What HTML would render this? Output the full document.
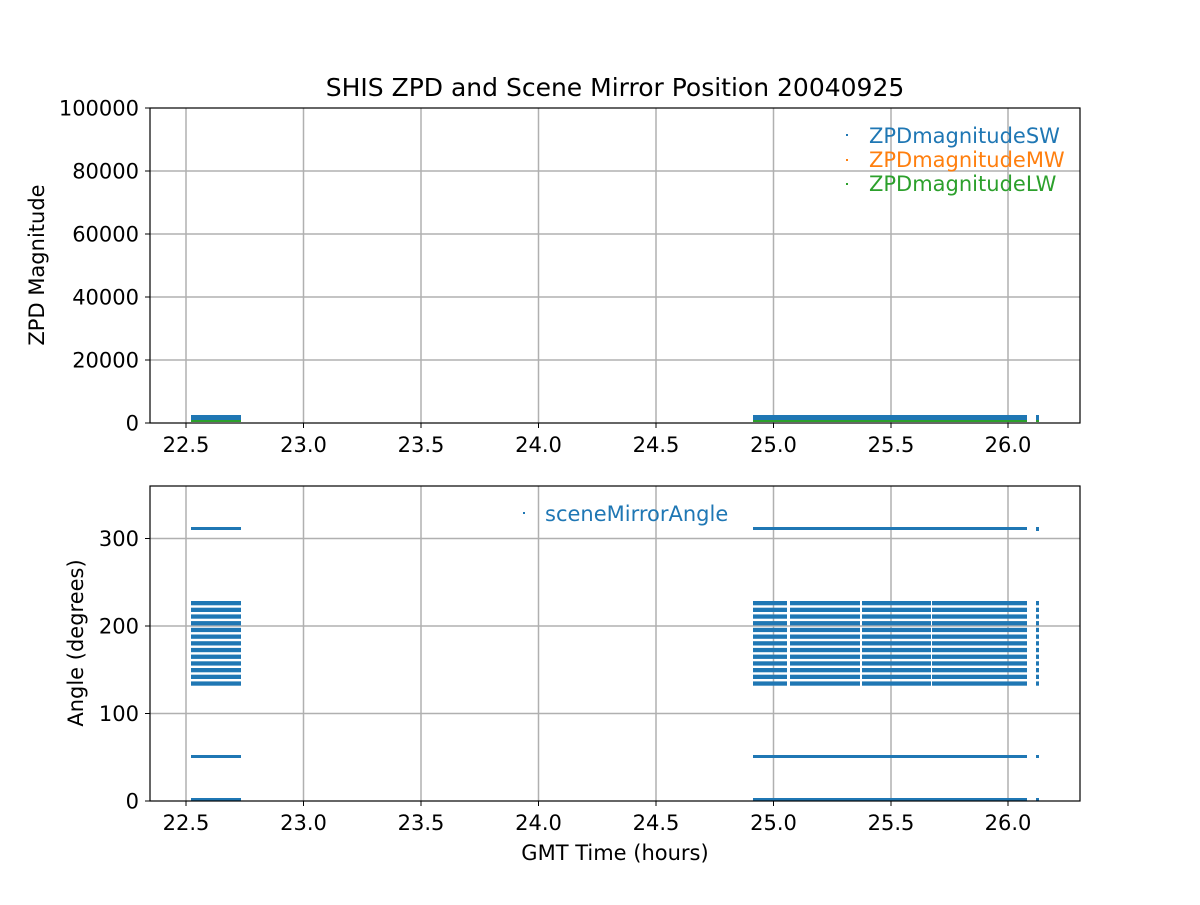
<!DOCTYPE html>
<html><head><style>body{margin:0;background:#fff}</style></head><body>
<svg width="1200" height="900" xmlns="http://www.w3.org/2000/svg" font-family="DejaVu Sans, Liberation Sans, sans-serif">
<rect width="1200" height="900" fill="#fff"/>
<g stroke="#b0b0b0" stroke-width="1.5">
<line x1="186" y1="108" x2="186" y2="423"/><line x1="303.5" y1="108" x2="303.5" y2="423"/><line x1="421" y1="108" x2="421" y2="423"/><line x1="538.5" y1="108" x2="538.5" y2="423"/><line x1="656" y1="108" x2="656" y2="423"/><line x1="773.5" y1="108" x2="773.5" y2="423"/><line x1="891" y1="108" x2="891" y2="423"/><line x1="1008" y1="108" x2="1008" y2="423"/>
<line x1="150" y1="360" x2="1080" y2="360"/><line x1="150" y1="297" x2="1080" y2="297"/><line x1="150" y1="234" x2="1080" y2="234"/><line x1="150" y1="171" x2="1080" y2="171"/>
<line x1="186" y1="486" x2="186" y2="801"/><line x1="303.5" y1="486" x2="303.5" y2="801"/><line x1="421" y1="486" x2="421" y2="801"/><line x1="538.5" y1="486" x2="538.5" y2="801"/><line x1="656" y1="486" x2="656" y2="801"/><line x1="773.5" y1="486" x2="773.5" y2="801"/><line x1="891" y1="486" x2="891" y2="801"/><line x1="1008" y1="486" x2="1008" y2="801"/>
<line x1="150" y1="713.5" x2="1080" y2="713.5"/><line x1="150" y1="626" x2="1080" y2="626"/><line x1="150" y1="538.5" x2="1080" y2="538.5"/>
</g>
<g fill="#1f77b4">
<rect x="191" y="415" width="50" height="5"/><rect x="753" y="415" width="274" height="5"/><rect x="1036" y="415" width="3" height="5"/>
</g>
<g fill="#2ca02c">
<rect x="191" y="420" width="50" height="2"/><rect x="753" y="420" width="274" height="2"/><rect x="1036" y="420" width="3" height="2"/>
</g>
<defs>
<pattern id="rows" x="0" y="601" width="10" height="6.7" patternUnits="userSpaceOnUse"><rect width="10" height="4.3" fill="#1f77b4"/></pattern>
</defs>
<g fill="#1f77b4">
<rect x="191" y="527" width="50" height="3"/><rect x="753" y="527" width="274" height="3"/><rect x="1036" y="527" width="3" height="4"/>
<rect x="191" y="755" width="50" height="3"/><rect x="753" y="755" width="274" height="3"/><rect x="1036" y="755" width="3" height="3"/>
<rect x="191" y="798" width="50" height="3"/><rect x="753" y="798" width="274" height="3"/><rect x="1036" y="798" width="3" height="3"/>
</g>
<g fill="url(#rows)">
<rect x="191" y="601" width="50" height="87"/>
<rect x="753" y="601" width="34" height="87"/><rect x="790" y="601" width="70" height="87"/><rect x="862" y="601" width="69" height="87"/><rect x="932" y="601" width="95" height="87"/>
<rect x="1036" y="601" width="3" height="87"/>
</g>
<g fill="none" stroke="#000" stroke-width="1.2">
<rect x="150" y="108" width="930" height="315"/><rect x="150" y="486" width="930" height="315"/>
</g>
<g stroke="#000" stroke-width="1">
<line x1="186" y1="423" x2="186" y2="428"/><line x1="303.5" y1="423" x2="303.5" y2="428"/><line x1="421" y1="423" x2="421" y2="428"/><line x1="538.5" y1="423" x2="538.5" y2="428"/><line x1="656" y1="423" x2="656" y2="428"/><line x1="773.5" y1="423" x2="773.5" y2="428"/><line x1="891" y1="423" x2="891" y2="428"/><line x1="1008" y1="423" x2="1008" y2="428"/>
<line x1="186" y1="801" x2="186" y2="806"/><line x1="303.5" y1="801" x2="303.5" y2="806"/><line x1="421" y1="801" x2="421" y2="806"/><line x1="538.5" y1="801" x2="538.5" y2="806"/><line x1="656" y1="801" x2="656" y2="806"/><line x1="773.5" y1="801" x2="773.5" y2="806"/><line x1="891" y1="801" x2="891" y2="806"/><line x1="1008" y1="801" x2="1008" y2="806"/>
<line x1="145" y1="423" x2="150" y2="423"/><line x1="145" y1="360" x2="150" y2="360"/><line x1="145" y1="297" x2="150" y2="297"/><line x1="145" y1="234" x2="150" y2="234"/><line x1="145" y1="171" x2="150" y2="171"/><line x1="145" y1="108" x2="150" y2="108"/>
<line x1="145" y1="801" x2="150" y2="801"/><line x1="145" y1="713.5" x2="150" y2="713.5"/><line x1="145" y1="626" x2="150" y2="626"/><line x1="145" y1="538.5" x2="150" y2="538.5"/>
</g>
<g font-size="21" fill="#000" text-anchor="middle">
<text x="186" y="452">22.5</text><text x="303.5" y="452">23.0</text><text x="421" y="452">23.5</text><text x="538.5" y="452">24.0</text><text x="656" y="452">24.5</text><text x="773.5" y="452">25.0</text><text x="891" y="452">25.5</text><text x="1008" y="452">26.0</text>
<text x="186" y="830">22.5</text><text x="303.5" y="830">23.0</text><text x="421" y="830">23.5</text><text x="538.5" y="830">24.0</text><text x="656" y="830">24.5</text><text x="773.5" y="830">25.0</text><text x="891" y="830">25.5</text><text x="1008" y="830">26.0</text>
</g>
<g font-size="21" fill="#000" text-anchor="end">
<text x="139" y="430.5">0</text><text x="139" y="367.5">20000</text><text x="139" y="304.5">40000</text><text x="139" y="241.5">60000</text><text x="139" y="178.5">80000</text><text x="139" y="115.5">100000</text>
<text x="139" y="808.5">0</text><text x="139" y="721">100</text><text x="139" y="633.5">200</text><text x="139" y="546">300</text>
</g>
<text x="615" y="96" font-size="25" text-anchor="middle">SHIS ZPD and Scene Mirror Position 20040925</text>
<text x="615" y="860" font-size="21" text-anchor="middle">GMT Time (hours)</text>
<text transform="translate(44,265) rotate(-90)" font-size="21" text-anchor="middle">ZPD Magnitude</text>
<text transform="translate(83,643) rotate(-90)" font-size="21" text-anchor="middle">Angle (degrees)</text>
<g font-size="21">
<rect x="846" y="134" width="2" height="2" fill="#1f77b4"/><text x="869" y="143" fill="#1f77b4">ZPDmagnitudeSW</text>
<rect x="846" y="159" width="2" height="2" fill="#ff7f0e"/><text x="869" y="167" fill="#ff7f0e">ZPDmagnitudeMW</text>
<rect x="846" y="183" width="2" height="2" fill="#2ca02c"/><text x="869" y="191" fill="#2ca02c">ZPDmagnitudeLW</text>
<rect x="523" y="512" width="2" height="2" fill="#1f77b4"/><text x="545" y="521" fill="#1f77b4">sceneMirrorAngle</text>
</g>
</svg>
</body></html>
